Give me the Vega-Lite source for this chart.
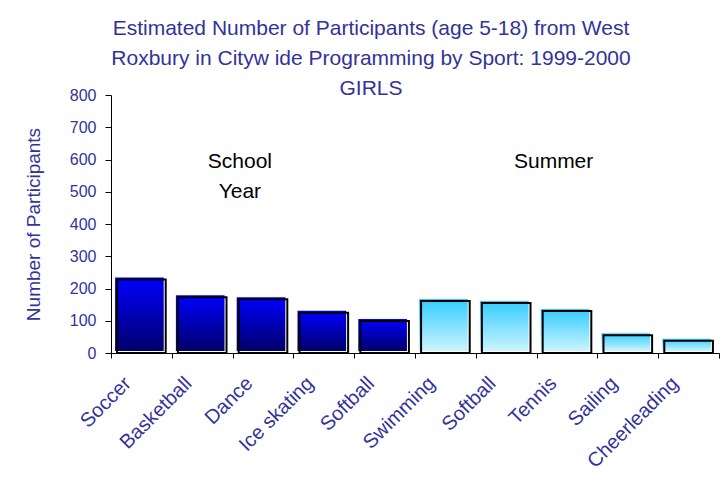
{
  "$schema": "https://vega.github.io/schema/vega-lite/v6.json",
  "width": 608,
  "height": 258,
  "autosize": "none",
  "padding": {"left": 111, "top": 95, "right": 9, "bottom": 128},
  "background": "white",
  "config": {"view": {"stroke": null}, "font": "Liberation Sans"},
  "title": {
    "text": ["Estimated Number of Participants (age 5-18) from West", "Roxbury in Cityw ide Programming by Sport: 1999-2000", "GIRLS"],
    "font": "Liberation Sans",
    "fontSize": 21,
    "fontWeight": "normal",
    "color": "#333399",
    "lineHeight": 30,
    "anchor": "middle",
    "dx": -44,
    "offset": -12
  },
  "data": {
    "values": [
      {"sport": "Soccer|School", "participants": 228, "season": "School"},
      {"sport": "Basketball|School", "participants": 173, "season": "School"},
      {"sport": "Dance|School", "participants": 167, "season": "School"},
      {"sport": "Ice skating|School", "participants": 125, "season": "School"},
      {"sport": "Softball|School", "participants": 99, "season": "School"},
      {"sport": "Swimming|Summer", "participants": 161, "season": "Summer"},
      {"sport": "Softball|Summer", "participants": 155, "season": "Summer"},
      {"sport": "Tennis|Summer", "participants": 130, "season": "Summer"},
      {"sport": "Sailing|Summer", "participants": 55, "season": "Summer"},
      {"sport": "Cheerleading|Summer", "participants": 38, "season": "Summer"}
    ]
  },
  "encoding": {
    "x": {
      "field": "sport",
      "type": "nominal",
      "sort": null,
      "scale": {"paddingInner": 0, "paddingOuter": 0},
      "axis": {
        "title": null,
        "labelExpr": "split(datum.label, '|')[0]",
        "labelAngle": -45,
        "labelAlign": "right",
        "labelBaseline": "middle",
        "labelFontSize": 20,
        "labelColor": "#333399",
        "labelPadding": 22,
        "labelOffset": -14,
        "tickBand": "extent",
        "tickSize": 5,
        "tickColor": "black",
        "domainColor": "black",
        "labelLimit": 300
      }
    },
    "y": {
      "field": "participants",
      "type": "quantitative",
      "scale": {"domain": [0, 800], "nice": false},
      "axis": {
        "values": [0, 100, 200, 300, 400, 500, 600, 700, 800],
        "grid": false,
        "domainColor": "black",
        "tickColor": "black",
        "tickSize": 6,
        "labelFontSize": 16,
        "labelColor": "#333399",
        "labelPadding": 9,
        "title": "Number of Participants",
        "titleFontSize": 19,
        "titleFontWeight": "normal",
        "titleColor": "#333399",
        "titlePadding": 26
      }
    }
  },
  "layer": [
    {
      "transform": [{"filter": "datum.season == 'School'"}],
      "mark": {
        "type": "bar",
        "width": {"band": 0.8},
        "xOffset": -2,
        "yOffset": -2,
        "color": {
          "gradient": "linear", "x1": 0, "y1": 0, "x2": 0, "y2": 1,
          "stops": [{"offset": 0, "color": "#0000FF"}, {"offset": 1, "color": "#00006A"}]
        }
      }
    },
    {
      "transform": [{"filter": "datum.season == 'Summer'"}],
      "mark": {
        "type": "bar",
        "width": {"band": 0.8},
        "xOffset": -2,
        "yOffset": -2,
        "color": {
          "gradient": "linear", "x1": 0, "y1": 0, "x2": 0, "y2": 1,
          "stops": [{"offset": 0, "color": "#33CCFF"}, {"offset": 1, "color": "#CCF4FF"}]
        }
      }
    },
    {
      "mark": {
        "type": "bar",
        "width": {"band": 0.8},
        "fillOpacity": 0,
        "stroke": "black",
        "strokeWidth": 2
      }
    },
    {
      "data": {"values": [
        {"sport": "Dance|School", "participants": 592, "note": "School"},
        {"sport": "Dance|School", "participants": 499, "note": "Year"}
      ]},
      "mark": {"type": "text", "fontSize": 21, "color": "black", "align": "center", "baseline": "middle"},
      "encoding": {
        "x": {"field": "sport", "type": "nominal", "sort": null, "bandPosition": 0.12},
        "y": {"field": "participants", "type": "quantitative"},
        "text": {"field": "note"}
      }
    },
    {
      "data": {"values": [
        {"sport": "Tennis|Summer", "participants": 592, "note": "Summer"}
      ]},
      "mark": {"type": "text", "fontSize": 21, "color": "black", "align": "center", "baseline": "middle"},
      "encoding": {
        "x": {"field": "sport", "type": "nominal", "sort": null, "bandPosition": 0.28},
        "y": {"field": "participants", "type": "quantitative"},
        "text": {"field": "note"}
      }
    }
  ]
}
